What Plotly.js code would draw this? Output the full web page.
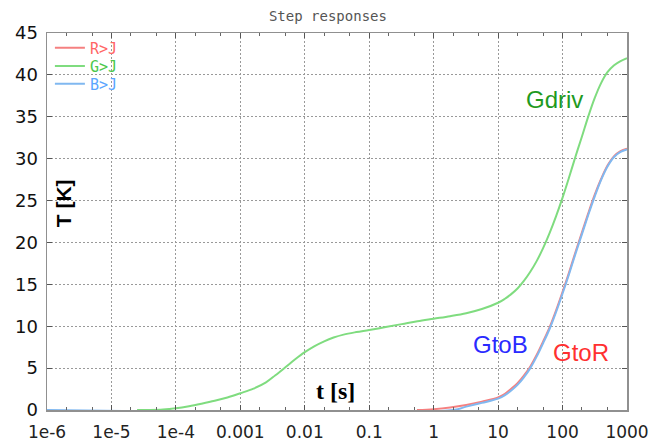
<!DOCTYPE html>
<html>
<head>
<meta charset="utf-8">
<script src="https://cdn.plot.ly/plotly-3.0.1.min.js"></script>
<style>html,body{margin:0;padding:0;background:#fff;}#chart{width:652px;height:442px;}</style>
</head>
<body>
<div id="chart"></div>
<script>
// Tick labels (decades)
const tickVals = [1e-6, 1e-5, 1e-4, 1e-3, 1e-2, 1e-1, 1, 10, 100, 1000];
const tickText = ['1e-6', '1e-5', '1e-4', '0.001', '0.01', '0.1', '1', '10', '100', '1000'];

// Series names
const seriesNames = ['R>J', 'G>J', 'B>J'];

// G>J (Gdriv)
const gT = [2.5e-5, 4e-5, 6.3e-5, 1e-4, 1.6e-4, 2.5e-4, 4e-4, 6.3e-4, 1e-3, 1.6e-3, 2.5e-3, 3.5e-3, 5e-3, 7.1e-3, 0.01, 0.014, 0.02, 0.028, 0.04, 0.063, 0.1, 0.18, 0.32, 0.56, 1, 1.8, 3.2, 5.6, 10, 12.6, 15.8, 20, 25.1, 31.6, 39.8, 50.1, 63.1, 79.4, 100, 126, 158, 200, 251, 316, 398, 501, 631, 794, 1000];
const gY = [0, 0, 0.05, 0.2, 0.45, 0.75, 1.1, 1.5, 2.0, 2.55, 3.3, 4.15, 5.1, 6.05, 6.9, 7.6, 8.2, 8.65, 9.0, 9.3, 9.55, 9.9, 10.25, 10.6, 10.9, 11.2, 11.55, 12.05, 12.8, 13.25, 13.8, 14.5, 15.4, 16.5, 17.8, 19.35, 21.15, 23.15, 25.35, 27.75, 30.2, 32.65, 35.05, 37.25, 39.05, 40.35, 41.15, 41.65, 42.0];

// R>J (GtoR)
const rT = [0.55, 1, 1.8, 3.2, 5.6, 10, 12.6, 15.8, 20, 25.1, 31.6, 39.8, 50.1, 63.1, 79.4, 100, 126, 158, 200, 251, 316, 398, 501, 631, 794, 1000];
const rY = [0, 0.1, 0.3, 0.6, 1.0, 1.5, 1.9, 2.5, 3.2, 4.1, 5.2, 6.6, 8.2, 9.9, 11.9, 14.1, 16.4, 18.8, 21.2, 23.5, 25.7, 27.6, 29.2, 30.3, 30.9, 31.2];

// B>J (GtoB)
const bT = [1e-6, 2, 3.2, 5.6, 10, 12.6, 15.8, 20, 25.1, 31.6, 39.8, 50.1, 63.1, 79.4, 100, 126, 158, 200, 251, 316, 398, 501, 631, 794, 1000];
const bY = [0, 0, 0.4, 0.85, 1.35, 1.75, 2.3, 3.0, 3.9, 5.0, 6.4, 8.0, 9.7, 11.7, 13.9, 16.2, 18.6, 21.0, 23.3, 25.5, 27.5, 29.1, 30.2, 30.8, 31.1];

const traces = [
  {x: rT, y: rY, mode: 'lines', name: seriesNames[0], legend: 'legend',
   line: {color: '#f58080', width: 2, shape: 'spline', smoothing: 1}},
  {x: gT, y: gY, mode: 'lines', name: seriesNames[1], legend: 'legend2',
   line: {color: '#7fdc7f', width: 2, shape: 'spline', smoothing: 1}},
  {x: bT, y: bY, mode: 'lines', name: seriesNames[2], legend: 'legend3',
   line: {color: '#80b8f0', width: 2, shape: 'spline', smoothing: 1}}
];

function legendBox(yc, color) {
  return {x: 0.005, y: yc, xanchor: 'left', yanchor: 'middle', bgcolor: 'rgba(0,0,0,0)',
          borderwidth: 0, itemwidth: 30,
          font: {family: 'DejaVu Sans Mono, monospace', size: 15, color: color}};
}

const layout = {
  width: 652, height: 442,
  margin: {l: 47, r: 25, t: 33, b: 32},
  paper_bgcolor: '#ffffff', plot_bgcolor: '#ffffff',
  title: {text: 'Step responses', x: 0.503, xanchor: 'center', y: 0.963, yanchor: 'middle',
          font: {family: 'DejaVu Sans Mono, monospace', size: 14, color: '#555'}},
  showlegend: true,
  legend: legendBox(0.960, '#ff6666'),
  legend2: legendBox(0.912, '#4cc84c'),
  legend3: legendBox(0.865, '#5aa5ff'),
  xaxis: {type: 'log', range: [-6, 3], tickvals: tickVals, ticktext: tickText,
          showgrid: true, gridcolor: '#999999', griddash: '2px,2px', gridwidth: 1,
          showline: true, linecolor: '#909090', linewidth: 1.5, mirror: 'allticks',
          ticks: 'inside', ticklen: 5, tickcolor: '#555',
          minor: {ticks: 'inside', ticklen: 3, tickcolor: '#666', showgrid: false},
          ticklabelstandoff: 6,
          tickfont: {family: 'DejaVu Sans, sans-serif', size: 17, color: '#222'},
          zeroline: false, fixedrange: true},
  yaxis: {range: [0, 45], dtick: 5, tick0: 0,
          showgrid: true, gridcolor: '#999999', griddash: '2px,2px', gridwidth: 1,
          showline: true, linecolor: '#909090', linewidth: 1.5, mirror: 'allticks',
          ticks: 'inside', ticklen: 5, tickcolor: '#555',
          ticklabelstandoff: 4,
          tickfont: {family: 'DejaVu Sans, sans-serif', size: 18, color: '#111'},
          zeroline: false, fixedrange: true},
  annotations: [
    {text: 'Gdriv', xref: 'x', yref: 'y', x: 1.88, y: 37.1, showarrow: false,
     xanchor: 'center', yanchor: 'middle',
     font: {family: 'Arial, Liberation Sans, sans-serif', size: 24, color: '#1f9a1f'}},
    {text: 'GtoB', xref: 'x', yref: 'y', x: 1.03, y: 7.8, showarrow: false,
     xanchor: 'center', yanchor: 'middle',
     font: {family: 'Arial, Liberation Sans, sans-serif', size: 24, color: '#2a2aff'}},
    {text: 'GtoR', xref: 'x', yref: 'y', x: 2.29, y: 6.9, showarrow: false,
     xanchor: 'center', yanchor: 'middle',
     font: {family: 'Arial, Liberation Sans, sans-serif', size: 24, color: '#ff3030'}},
    {text: '<b>T [K]</b>', xref: 'paper', yref: 'paper', x: 0.028, y: 0.549, textangle: -90, showarrow: false,
     xanchor: 'center', yanchor: 'middle',
     font: {family: 'Arial, Liberation Sans, sans-serif', size: 21, color: '#000'}},
    {text: '<b>t [s]</b>', xref: 'paper', yref: 'paper', x: 0.498, y: 0.05, showarrow: false,
     xanchor: 'center', yanchor: 'middle',
     font: {family: 'Liberation Serif, Times New Roman, serif', size: 24, color: '#000'}}
  ]
};

Plotly.newPlot('chart', traces, layout, {staticPlot: true, displayModeBar: false});
</script>
</body>
</html>
